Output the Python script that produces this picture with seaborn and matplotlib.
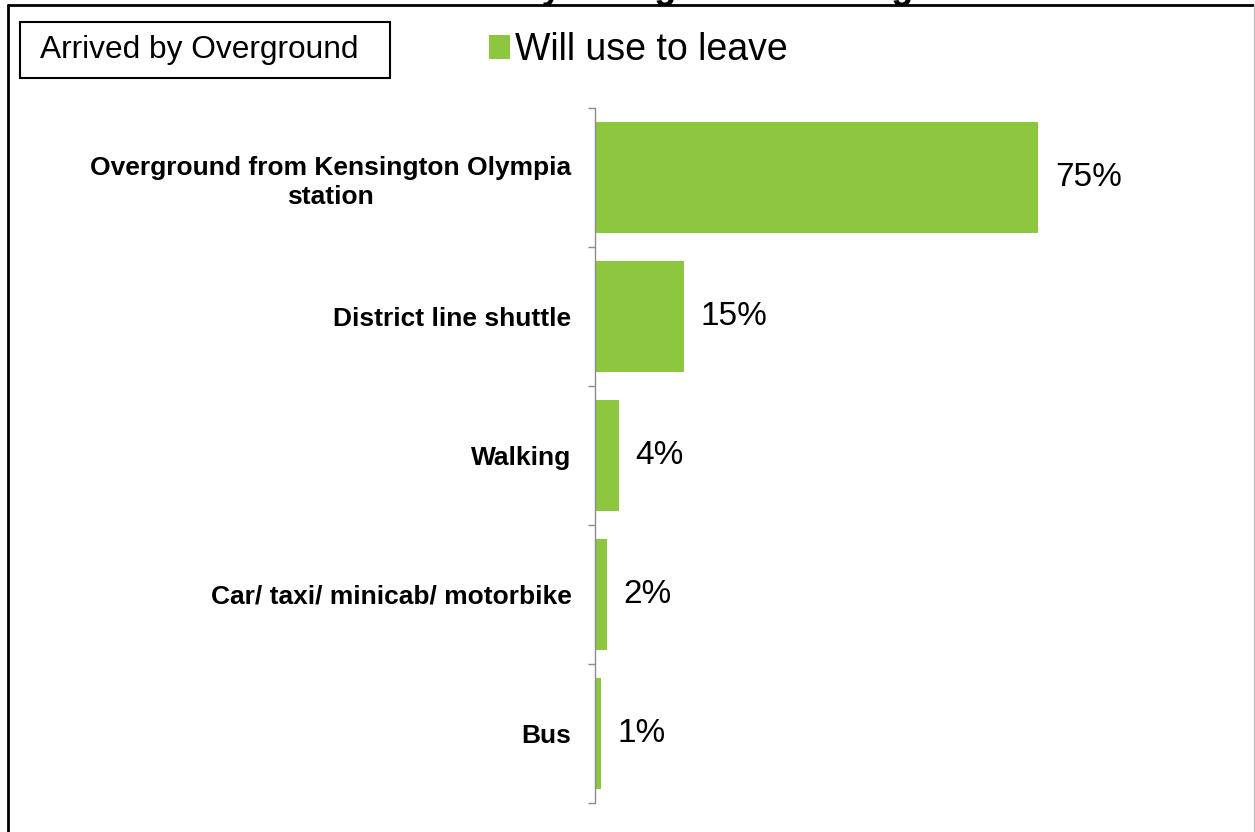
import matplotlib
matplotlib.use("Agg")
import matplotlib.pyplot as plt
import seaborn as sns
import pandas as pd
from matplotlib.patches import Rectangle
from matplotlib.lines import Line2D
from matplotlib.ticker import FixedLocator

categories = ["Overground from Kensington Olympia\nstation", "District line shuttle",
              "Walking", "Car/ taxi/ minicab/ motorbike", "Bus"]
values = [75, 15, 4, 2, 1]
series_name = "Will use to leave"
box_label = "Arrived by Overground"
title = "Visitors who arrived by Overground leaving"

sns.set_theme(style="white")
plt.rcParams['font.family'] = ['Liberation Sans', 'DejaVu Sans']
plt.rcParams['text.color'] = 'black'

W, H = 1255, 832
fig = plt.figure(figsize=(W / 100, H / 100), dpi=100)
ax = fig.add_axes([595 / W, 1 - 803 / H, 591 / W, (803 - 108) / H])

df = pd.DataFrame({"mode": categories, "value": values, "series": series_name})
green = "#8DC63F"
sns.barplot(data=df, x="value", y="mode", hue="series", orient="h",
            palette=[green], saturation=1, width=0.8, linewidth=0, ax=ax, legend=True)

ax.set_xlim(0, 100)
ax.set_ylim(4.5, -0.5)
ax.set_xlabel("")
ax.set_ylabel("")
ax.set_xticks([])
for s in ["top", "right", "bottom"]:
    ax.spines[s].set_visible(False)
ax.spines["left"].set_color("#8c8c8c")
ax.spines["left"].set_linewidth(1.0)

ax.yaxis.set_minor_locator(FixedLocator([i - 0.5 for i in range(len(categories) + 1)]))
ax.tick_params(axis="y", which="major", length=0, pad=17)
ax.tick_params(axis="y", which="minor", length=5, width=1, color="#8c8c8c", left=True)
for lab in ax.get_yticklabels():
    lab.set_fontsize(19)
    lab.set_fontweight("bold")
    lab.set_multialignment("center")
    lab.set_linespacing(1.25)
    lab.set_color("black")

for cont in ax.containers:
    ax.bar_label(cont, labels=[f"{v}%" for v in values], padding=12,
                 fontsize=24, color="black")

handles, labels = ax.get_legend_handles_labels()
ax.get_legend().remove()
leg = fig.legend(handles, labels, loc="center left", bbox_to_anchor=(489 / W, 1 - 50 / H),
                 frameon=False, fontsize=27, handlelength=0.55, handleheight=0.6,
                 handletextpad=0.15, borderpad=0, borderaxespad=0)
for t in leg.get_texts():
    t.set_color("black")

# box label
fig.patches.append(Rectangle((20 / W, 1 - 78 / H), 370 / W, 56 / H,
                             transform=fig.transFigure, fill=False,
                             edgecolor="black", linewidth=1.5))
fig.text(40 / W, 1 - 50 / H, box_label, fontsize=22.8, va="center", ha="left", color="black")

# cropped title
fig.text(539 / W, 1 + 2 / H, title, fontsize=26, fontweight="bold",
         ha="center", va="baseline", color="black")

# outer frame
fig.add_artist(Line2D([8 / W, 8 / W], [0, 1 - 5 / H], transform=fig.transFigure,
                      color="black", linewidth=2))
fig.add_artist(Line2D([8 / W, 1253 / W], [1 - 5 / H, 1 - 5 / H], transform=fig.transFigure,
                      color="black", linewidth=2))
fig.add_artist(Line2D([1253.5 / W, 1253.5 / W], [0, 1 - 5 / H], transform=fig.transFigure,
                      color="#c0c0c0", linewidth=1))

fig.savefig("out.png", dpi=100)
